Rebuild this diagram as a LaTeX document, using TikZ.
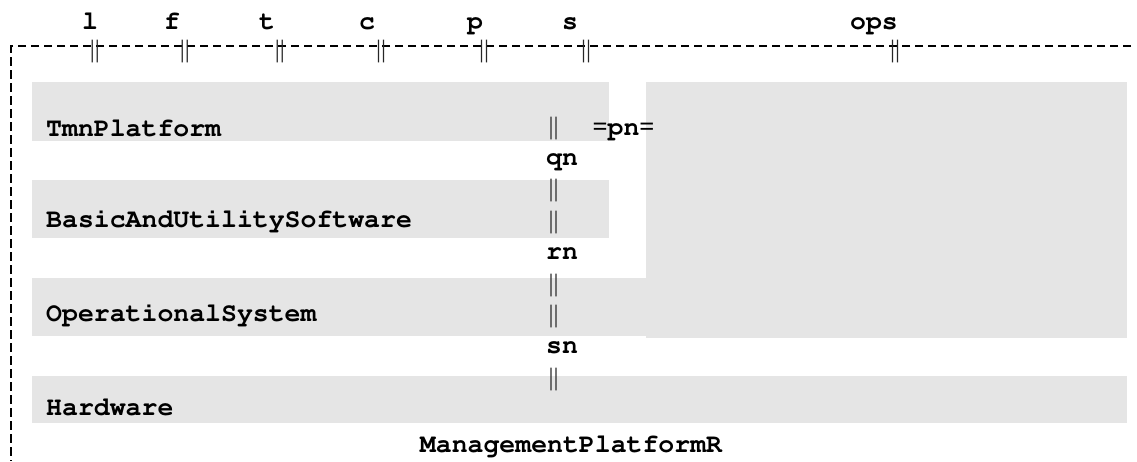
\documentclass[tikz,border=0pt]{standalone}
\usepackage[T1]{fontenc}
\usepackage{fontspec}
\newfontfamily\barfont{Liberation Serif}
\usepackage{tikz}
\definecolor{layergray}{RGB}{229,229,229}
\newcommand{\courierbold}{\fontencoding{T1}\fontfamily{pcr}\fontseries{b}\fontsize{26.5}{30}\selectfont}

\begin{document}
\begin{tikzpicture}[x=1pt,y=-1pt,
  mono/.style={font=\courierbold,inner sep=0pt,anchor=base},
  layertext/.style={mono,anchor=base west},
  bars/.style={font=\barfont\fontsize{25}{25}\selectfont,text=black!85,inner sep=0pt,anchor=base},
  layer/.style={fill=layergray}]
  \useasboundingbox (0,0) rectangle (1137,461);

  % grey layers
  \fill[layer] (646,82) rectangle (1127,338);
  \fill[layer] (32,82) rectangle (609,141);
  \fill[layer] (32,180) rectangle (609,238);
  \fill[layer] (32,278) rectangle (646,336);
  \fill[layer] (32,376) rectangle (1127,423);

  \node[layertext] (tmn) at (46,136) {TmnPlatform};
  \node[layertext] (basic) at (46,227) {BasicAndUtilitySoftware};
  \node[layertext] (opsys) at (46,321) {OperationalSystem};
  \node[layertext] (hw) at (46,415) {Hardware};

  % frame with ticks
  \draw[line width=2.6pt,dash pattern=on 8.5pt off 4.5pt] (1131,46) -- (11,46) -- (11,461);
  \foreach \t/\lx/\tx [count=\i] in {l/90/95,f/172/185,t/267/280,c/367/381,p/475/484,s/570/586,ops/874/895} {
    \node[mono] (top\i) at (\lx,29) {\t};
    \node[bars] (tick\i) at (\tx,57.5) {||};
  }

  % separators
  \foreach \y [count=\i] in {134.7,196.7,228.7,291,322.7,385}
    \node[bars] (sep\i) at (553.5,\y) {||};
  \node[mono] (qn) at (562,165) {qn};
  \node[mono] (rn) at (562,259) {rn};
  \node[mono] (sn) at (562,353) {sn};
  \node[mono] (pn) at (623.5,135) {{\barfont=}pn{\barfont=}};

  \node[mono] (mpr) at (571,452) {ManagementPlatformR};
\end{tikzpicture}
\end{document}
